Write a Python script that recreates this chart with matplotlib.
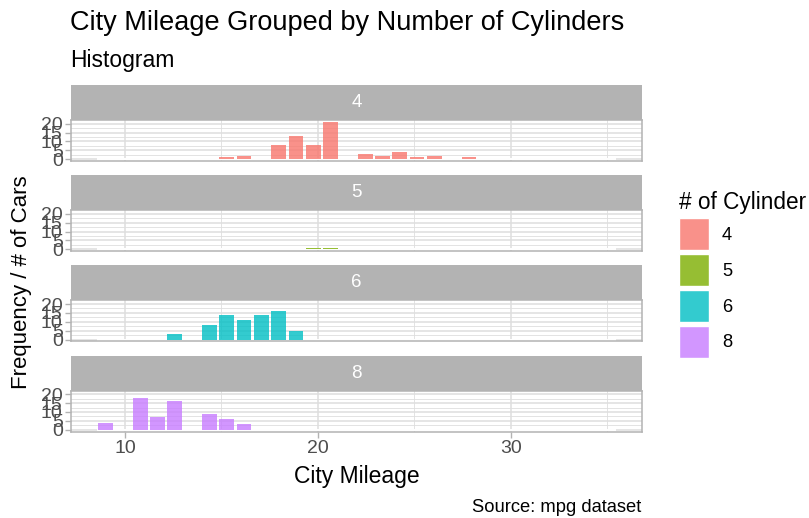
# Histogram of city mileage, one facet per number of cylinders
import matplotlib.pyplot as plt
import matplotlib.colors as mcolors
from matplotlib.patches import Patch
import numpy as np

plt.rcParams['font.family'] = ['Liberation Sans', 'DejaVu Sans']

cylinders = ['4', '5', '6', '8']
colors = ['#F8766D', '#7CAE00', '#00BFC4', '#C77CFF']

cty_4 = [15, 16, 18, 19, 20, 21, 22, 23, 24, 25, 26, 28]
n_4 = [1, 2, 8, 13, 8, 21, 3, 2, 4, 1, 2, 1]
cty_5 = [20, 21]
n_5 = [1, 1]
cty_6 = [13, 14, 15, 16, 17, 18, 19]
n_6 = [3, 8, 14, 11, 14, 16, 5]
cty_8 = [9, 11, 12, 13, 14, 15, 16]
n_8 = [4, 18, 7, 16, 9, 6, 3]

cty_min, cty_max, n_bins = 9, 35, 30

x_ticks = [10, 20, 30]
y_ticks = [0, 5, 10, 15, 20]

facets = [(cty_4, n_4), (cty_5, n_5), (cty_6, n_6), (cty_8, n_8)]

W, H = 809, 518
fig = plt.figure(figsize=(W / 100, H / 100), dpi=100)


def box(x0, y0, x1, y1):
    return [x0 / W, 1 - y1 / H, (x1 - x0) / W, (y1 - y0) / H]


width = (cty_max - cty_min) / (n_bins - 1)
edges = cty_min - width / 2 + width * np.arange(n_bins + 1)
span = edges[-1] - edges[0]
xlim = (edges[0] - 0.05 * span, edges[-1] + 0.05 * span)
top = max(max(n) for _, n in facets)
ylim = (-0.05 * top, 1.05 * top)

grid_col = '#DEDEDE'
border_col = '#B3B3B3'

px0, px1 = 71, 642
for i, (cyl, col, (cty, n)) in enumerate(zip(cylinders, colors, facets)):
    p_top = 120 + i * 90.2
    p_bot = p_top + 41
    s_top = p_top - 35

    sax = fig.add_axes(box(px0, s_top, px1, p_top))
    sax.set_facecolor(border_col)
    sax.set_xticks([])
    sax.set_yticks([])
    for sp in sax.spines.values():
        sp.set_visible(False)
    sax.text(0.5, 0.5, cyl, color='white', fontsize=13.5,
             ha='center', va='center', transform=sax.transAxes)

    ax = fig.add_axes(box(px0, p_top, px1, p_bot))
    ax.set_xlim(xlim)
    ax.set_ylim(ylim)
    ax.set_axisbelow(True)
    ax.set_xticks(x_ticks)
    ax.set_xticks([15, 25, 35], minor=True)
    ax.set_yticks(y_ticks)
    ax.set_yticks([2.5, 7.5, 12.5, 17.5], minor=True)
    ax.grid(which='major', color=grid_col, linewidth=1.1)
    ax.grid(which='minor', color=grid_col, linewidth=0.6)
    ax.tick_params(which='minor', length=0)
    ax.tick_params(which='major', length=4, color=border_col, width=1,
                   labelsize=14, labelcolor='#4D4D4D', pad=2)
    if i < 3:
        ax.tick_params(axis='x', which='major', length=0, labelbottom=False)
    for sp in ax.spines.values():
        sp.set_color(border_col)
        sp.set_linewidth(1.1)

    # empty bins keep a white outline along zero, as in ggplot
    ax.hlines(0, edges[0], edges[-1], color='white', linewidth=1.4, zorder=1.5)
    ax.hist(np.repeat(cty, n), bins=edges, rwidth=0.85,
            color=mcolors.to_rgba(col, 0.8), edgecolor='none', zorder=2)

fig.text(70 / W, 1 - 23 / H, 'City Mileage Grouped by Number of Cylinders',
         fontsize=19.5, ha='left', va='center')
fig.text(70 / W, 1 - 60 / H, 'Histogram', fontsize=16.5, ha='left', va='center')
fig.text(357 / W, 1 - 476 / H, 'City Mileage', fontsize=16.5, ha='center', va='center')
fig.text(22 / W, 1 - 282 / H, 'Frequency / # of Cars', fontsize=16,
         rotation=90, ha='center', va='center')
fig.text(641 / W, 1 - 508 / H, 'Source: mpg dataset', fontsize=13.2,
         ha='right', va='center')

handles = [Patch(facecolor=mcolors.to_rgba(c, 0.8), edgecolor='white')
           for c in colors]
fig.legend(handles, cylinders, title='# of Cylinder', loc='upper left',
           bbox_to_anchor=(679 / W, 1 - 191 / H), frameon=False,
           fontsize=13.2, title_fontsize=16.3, alignment='left',
           handlelength=1.64, handleheight=2.3, labelspacing=0.22,
           handletextpad=0.7, borderaxespad=0, borderpad=0)

fig.savefig('out.png', dpi=100)
